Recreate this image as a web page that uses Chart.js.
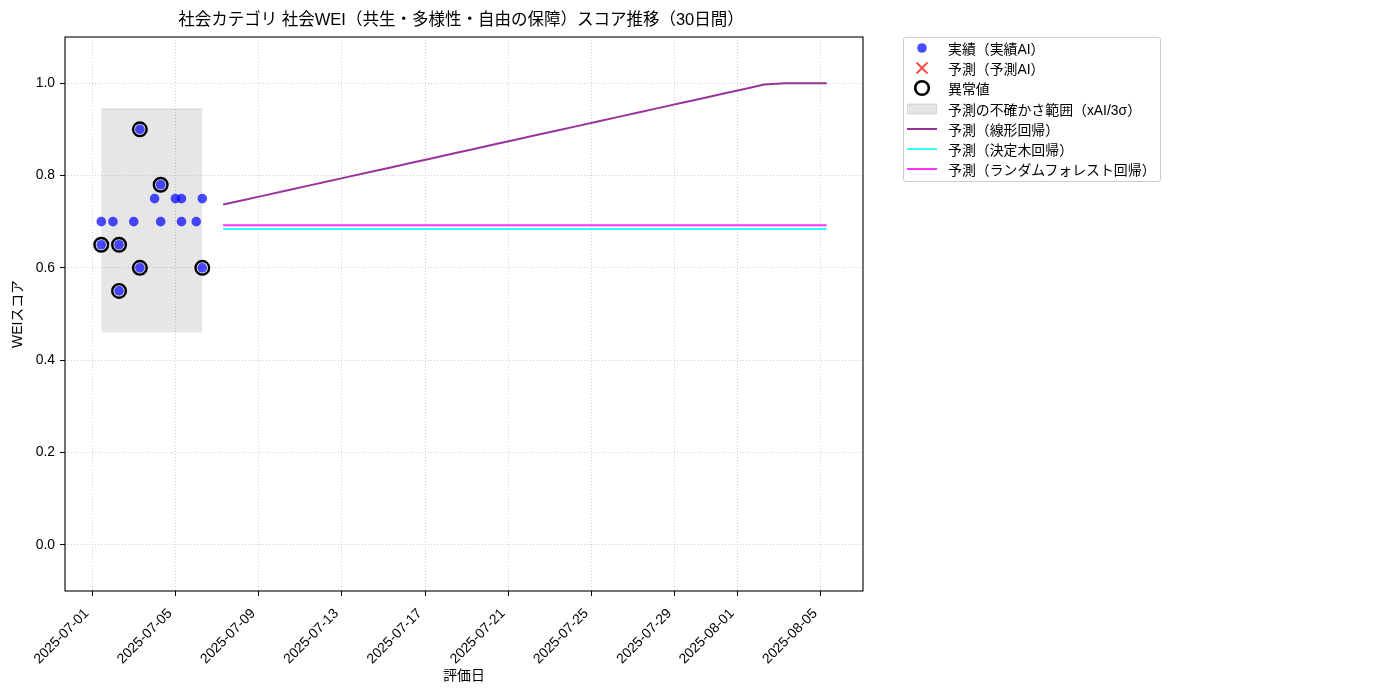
<!DOCTYPE html>
<html lang="ja">
<head>
<meta charset="utf-8">
<title>社会WEIスコア推移</title>
<script src="https://cdn.jsdelivr.net/npm/chart.js@4.4.1/dist/chart.umd.min.js"></script>
<style>
  body { margin: 0; background: #fff; }
  #wrap { position: relative; width: 1400px; height: 700px; }
  #legend {
    position: absolute; left: 903px; top: 37px; width: 256px;
    border: 1px solid #cccccc; border-radius: 3px; background: #fff;
    font-family: 'Liberation Sans', 'Noto Sans CJK JP', sans-serif; font-size: 13.9px; color: #000;
    padding: 0 0 2px 0;
  }
  #legend .row { display: flex; align-items: center; height: 20.2px; }
  #legend .mk { width: 36px; display: flex; justify-content: center; align-items: center; }
  #legend .tx { margin-left: 8px; }
</style>
</head>
<body>
<div id="wrap">
  <canvas id="chart" width="1400" height="700"></canvas>
  <div id="legend"></div>
</div>
<script>
// 実績データ（日時・スコア）
const actualDates = [
  '2025-07-01T10:30:00Z', '2025-07-01T10:30:00Z', '2025-07-02T00:00:00Z', '2025-07-02T07:00:00Z',
  '2025-07-02T07:00:00Z', '2025-07-03T00:00:00Z', '2025-07-03T07:00:00Z', '2025-07-03T07:00:00Z',
  '2025-07-04T00:00:00Z', '2025-07-04T07:00:00Z', '2025-07-04T07:00:00Z', '2025-07-05T00:00:00Z',
  '2025-07-05T07:00:00Z', '2025-07-05T07:00:00Z', '2025-07-06T00:00:00Z', '2025-07-06T07:00:00Z',
  '2025-07-06T07:00:00Z'
];
const actualValues = [0.70, 0.65, 0.70, 0.65, 0.55, 0.70, 0.90, 0.60, 0.75, 0.78, 0.70, 0.75, 0.75, 0.70, 0.70, 0.75, 0.60];
const outlierFlags = [0, 1, 0, 1, 1, 0, 1, 1, 0, 1, 0, 0, 0, 0, 0, 0, 1];

// 不確かさ範囲（xAI/3σ）
const bandLower = 0.46;
const bandUpper = 0.944;

// 予測（30日間）
const forecastDates = [
  '2025-07-07T07:00:00Z', '2025-07-08T07:00:00Z', '2025-07-09T07:00:00Z', '2025-07-10T07:00:00Z',
  '2025-07-11T07:00:00Z', '2025-07-12T07:00:00Z', '2025-07-13T07:00:00Z', '2025-07-14T07:00:00Z',
  '2025-07-15T07:00:00Z', '2025-07-16T07:00:00Z', '2025-07-17T07:00:00Z', '2025-07-18T07:00:00Z',
  '2025-07-19T07:00:00Z', '2025-07-20T07:00:00Z', '2025-07-21T07:00:00Z', '2025-07-22T07:00:00Z',
  '2025-07-23T07:00:00Z', '2025-07-24T07:00:00Z', '2025-07-25T07:00:00Z', '2025-07-26T07:00:00Z',
  '2025-07-27T07:00:00Z', '2025-07-28T07:00:00Z', '2025-07-29T07:00:00Z', '2025-07-30T07:00:00Z',
  '2025-07-31T07:00:00Z', '2025-08-01T07:00:00Z', '2025-08-02T07:00:00Z', '2025-08-03T07:00:00Z',
  '2025-08-04T07:00:00Z', '2025-08-05T07:00:00Z'
];
const linearValues = [
  0.737, 0.747, 0.757, 0.767, 0.777, 0.787, 0.797, 0.807, 0.817, 0.827,
  0.837, 0.847, 0.857, 0.867, 0.877, 0.887, 0.897, 0.907, 0.917, 0.927,
  0.937, 0.947, 0.957, 0.967, 0.977, 0.987, 0.997, 1.000, 1.000, 1.000
];
const treeValues = [
  0.684, 0.684, 0.684, 0.684, 0.684, 0.684, 0.684, 0.684, 0.684, 0.684,
  0.684, 0.684, 0.684, 0.684, 0.684, 0.684, 0.684, 0.684, 0.684, 0.684,
  0.684, 0.684, 0.684, 0.684, 0.684, 0.684, 0.684, 0.684, 0.684, 0.684
];
const forestValues = [
  0.692, 0.692, 0.692, 0.692, 0.692, 0.692, 0.692, 0.692, 0.692, 0.692,
  0.692, 0.692, 0.692, 0.692, 0.692, 0.692, 0.692, 0.692, 0.692, 0.692,
  0.692, 0.692, 0.692, 0.692, 0.692, 0.692, 0.692, 0.692, 0.692, 0.692
];

// 軸目盛り
const xTickLabels = ['2025-07-01', '2025-07-05', '2025-07-09', '2025-07-13', '2025-07-17',
  '2025-07-21', '2025-07-25', '2025-07-29', '2025-08-01', '2025-08-05'];
const yTickValues = [0.0, 0.2, 0.4, 0.6, 0.8, 1.0];

const titleText = '社会カテゴリ 社会WEI（共生・多様性・自由の保障）スコア推移（30日間）';
const FONT = "'Liberation Sans', 'Noto Sans CJK JP', sans-serif";

const toPts = (dates, vals) => dates.map((d, i) => ({ x: Date.parse(d), y: vals[i] }));

const actualPts = toPts(actualDates, actualValues);
const outlierPts = actualPts.filter((p, i) => outlierFlags[i] === 1);
const actualTimes = actualPts.map(p => p.x);
const bandPts = [
  { x: Math.min(...actualTimes), y: bandUpper },
  { x: Math.max(...actualTimes), y: bandUpper }
];

// matplotlib風の5%マージン
const allTimes = actualTimes.concat(forecastDates.map(d => Date.parse(d)));
const tMin = Math.min(...allTimes), tMax = Math.max(...allTimes);
const tPad = (tMax - tMin) * 0.05;

const datasets = [
  { label: '実績（実績AI）', data: actualPts, showLine: false, pointRadius: 4.8,
    pointBackgroundColor: 'rgba(0,0,255,0.7)', pointBorderWidth: 0, order: 2 },
  { label: '予測（予測AI）', data: [], showLine: false, pointStyle: 'crossRot',
    pointBorderColor: 'rgba(255,0,0,0.7)', order: 2 },
  { label: '異常値', data: outlierPts, showLine: false, pointRadius: 6.8,
    pointBackgroundColor: 'rgba(0,0,0,0)', pointBorderColor: '#000', pointBorderWidth: 2.4, order: 1 },
  { label: '予測の不確かさ範囲（xAI/3σ）', data: bandPts, pointRadius: 0,
    borderColor: 'rgba(128,128,128,0.25)', borderWidth: 1,
    backgroundColor: 'rgba(128,128,128,0.2)', fill: { value: bandLower }, order: 10 },
  { label: '予測（線形回帰）', data: toPts(forecastDates, linearValues), pointRadius: 0,
    borderColor: 'rgba(128,0,128,0.8)', borderWidth: 2, order: 5 },
  { label: '予測（決定木回帰）', data: toPts(forecastDates, treeValues), pointRadius: 0,
    borderColor: 'rgba(0,255,255,0.8)', borderWidth: 2, order: 5 },
  { label: '予測（ランダムフォレスト回帰）', data: toPts(forecastDates, forestValues), pointRadius: 0,
    borderColor: 'rgba(255,0,255,0.8)', borderWidth: 2, order: 5 }
];

// タイトルと枠線
const framePlugin = {
  id: 'frame',
  afterDraw(chart) {
    const { ctx, chartArea: a } = chart;
    ctx.save();
    ctx.strokeStyle = '#000';
    ctx.lineWidth = 1.1;
    ctx.strokeRect(a.left, a.top, a.right - a.left, a.bottom - a.top);
    ctx.fillStyle = '#000';
    ctx.font = '16.5px ' + FONT;
    ctx.textAlign = 'center';
    ctx.textBaseline = 'middle';
    ctx.fillText(titleText, (a.left + a.right) / 2 - 3, 20);
    ctx.restore();
  }
};

const gridCommon = {
  color: '#c4c4c4',
  lineWidth: 0.8,
  tickLength: 5,
  tickColor: '#000',
  tickWidth: 1,
  tickBorderDash: []
};

new Chart(document.getElementById('chart'), {
  type: 'line',
  data: { datasets },
  plugins: [framePlugin],
  options: {
    responsive: false,
    animation: false,
    layout: { padding: { top: 37, right: 537, left: 0, bottom: 0 } },
    elements: { line: { tension: 0 } },
    plugins: { legend: { display: false }, tooltip: { enabled: false } },
    scales: {
      x: {
        type: 'linear',
        min: tMin - tPad,
        max: tMax + tPad,
        afterBuildTicks: s => { s.ticks = xTickLabels.map(t => ({ value: Date.parse(t) })); },
        afterFit: s => { s.height = 109; },
        grid: gridCommon,
        border: { display: false, dash: [1, 2] },
        ticks: {
          autoSkip: false, minRotation: 45, maxRotation: 45, padding: 4,
          color: '#000', font: { family: FONT, size: 13.9 },
          // 末尾の空白で回転ラベルを目盛りの左下へ寄せる
          callback: v => new Date(v).toISOString().slice(0, 10) + '  '
        },
        title: { display: true, text: '評価日', color: '#000',
          font: { family: FONT, size: 13.9 }, padding: { top: 0, bottom: 15 } }
      },
      y: {
        min: -0.1,
        max: 1.1,
        afterBuildTicks: s => { s.ticks = yTickValues.map(v => ({ value: v })); },
        afterFit: s => { s.width = 65; },
        grid: gridCommon,
        border: { display: false, dash: [1, 2] },
        ticks: { padding: 5, color: '#000', font: { family: FONT, size: 13.9 },
          callback: v => v.toFixed(1) },
        title: { display: true, text: 'WEIスコア', color: '#000',
          font: { family: FONT, size: 13.9 }, padding: { top: 10, bottom: 0 } }
      }
    }
  }
});

// 凡例（HTML）
const markers = [
  '<svg width="14" height="14"><circle cx="7" cy="7" r="4.8" fill="rgba(0,0,255,0.7)"/></svg>',
  '<svg width="16" height="16"><path d="M2.5 2.5 L13.5 13.5 M13.5 2.5 L2.5 13.5" stroke="rgba(255,0,0,0.7)" stroke-width="2"/></svg>',
  '<svg width="18" height="18"><circle cx="9" cy="9" r="6.8" fill="none" stroke="#000" stroke-width="2.6"/></svg>',
  '<svg width="30" height="12"><rect x="0.5" y="1" width="29" height="10" fill="rgba(128,128,128,0.2)" stroke="rgba(128,128,128,0.25)"/></svg>',
  '<svg width="30" height="4"><line x1="0" y1="2" x2="30" y2="2" stroke="rgba(128,0,128,0.8)" stroke-width="2"/></svg>',
  '<svg width="30" height="4"><line x1="0" y1="2" x2="30" y2="2" stroke="rgba(0,255,255,0.8)" stroke-width="2"/></svg>',
  '<svg width="30" height="4"><line x1="0" y1="2" x2="30" y2="2" stroke="rgba(255,0,255,0.8)" stroke-width="2"/></svg>'
];
document.getElementById('legend').innerHTML = datasets.map((d, i) =>
  '<div class="row"><span class="mk">' + markers[i] + '</span><span class="tx">' + d.label + '</span></div>'
).join('');
</script>
</body>
</html>
